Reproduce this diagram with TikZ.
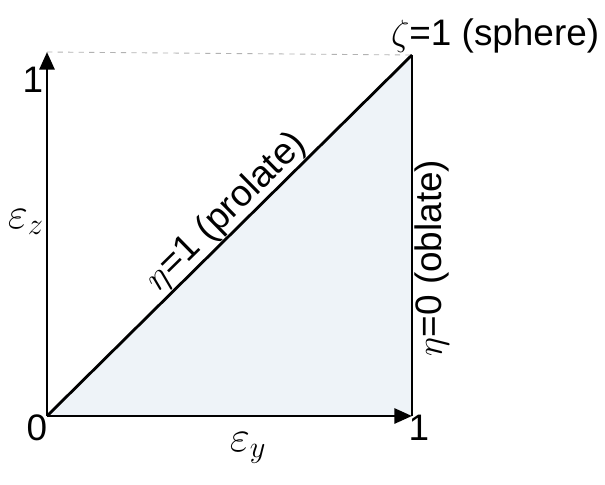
\documentclass[tikz,border=0pt]{standalone}
\usepackage{fontspec}
\setmainfont{Liberation Sans}
\usetikzlibrary{arrows.meta}
\definecolor{fillblue}{RGB}{238,243,248}
\tikzset{
	axis/.style={line width=1.6pt,-{Triangle[length=10pt,width=8.5pt]}},
	edge/.style={line width=1.6pt},
	lbl/.style={font=\fontsize{21}{24}\selectfont,inner sep=1pt},
	mlbl/.style={font=\fontsize{24}{28}\selectfont,inner sep=1pt}
}
\begin{document}
\begin{tikzpicture}[x=0.02cm,y=-0.02cm]
	\useasboundingbox (0,0) rectangle (605,484);
	
	%Region
	\coordinate (o) at (47,416);
	\coordinate (xe) at (412,416);
	\coordinate (ye) at (47,52);
	\coordinate (s) at (412,55);
	\fill[fillblue] (o)--(xe)--(s)--cycle;
	\draw[dashed,gray!60,line width=.5pt] (ye)--(s);
	
	%Axes
	\draw[axis] (o)--(ye);
	\draw[axis] (o)--(xe);
	\draw[edge] (o)--(s);
	\draw[edge] (xe)--(s);
	
	%Labels
	\node[lbl] at (33,80) (one_z) {1};
	\node[lbl] at (37,428) (zero) {0};
	\node[lbl] at (419,428) (one_y) {1};
	\node[mlbl] at (26,222) (ez) {$\varepsilon_z$};
	\node[mlbl] at (248,448) (ey) {$\varepsilon_y$};
	\node[lbl,anchor=base west] at (389,45) (sphere) {$\zeta$=1 (sphere)};
	\node[lbl,rotate=44.5,anchor=south] at (240,226) (prolate) {$\eta$=1 (prolate)};
	\node[lbl,rotate=90,anchor=north] at (413,258) (oblate) {$\eta$=0 (oblate)};
	
\end{tikzpicture}
\end{document}
